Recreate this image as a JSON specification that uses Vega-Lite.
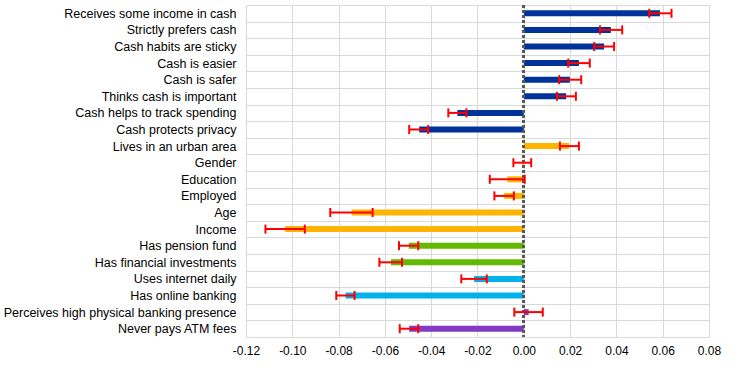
{
  "$schema": "https://vega.github.io/schema/vega-lite/v6.json",
  "autosize": {"type": "none"},
  "width": 463,
  "height": 332,
  "padding": {"left": 246, "top": 5, "right": 35, "bottom": 33},
  "background": "white",
  "config": {
    "view": {"stroke": null},
    "font": "Liberation Sans",
    "axis": {"labelFont": "Liberation Sans", "labelFontSize": 12, "labelColor": "#000000", "gridColor": "#d9d9d9", "gridWidth": 1, "domain": false, "ticks": false}
  },
  "data": {"values": [
    {"factor": "Receives some income in cash", "group": "A", "value": 0.0588, "lo": 0.0542, "hi": 0.0638},
    {"factor": "Strictly prefers cash", "group": "A", "value": 0.0376, "lo": 0.0329, "hi": 0.0425},
    {"factor": "Cash habits are sticky", "group": "A", "value": 0.0347, "lo": 0.0304, "hi": 0.039},
    {"factor": "Cash is easier", "group": "A", "value": 0.0238, "lo": 0.0192, "hi": 0.0285},
    {"factor": "Cash is safer", "group": "A", "value": 0.0199, "lo": 0.0153, "hi": 0.0248},
    {"factor": "Thinks cash is important", "group": "A", "value": 0.0183, "lo": 0.0143, "hi": 0.0225},
    {"factor": "Cash helps to track spending", "group": "A", "value": -0.0287, "lo": -0.0326, "hi": -0.0248},
    {"factor": "Cash protects privacy", "group": "A", "value": -0.0452, "lo": -0.0495, "hi": -0.0413},
    {"factor": "Lives in an urban area", "group": "B", "value": 0.0196, "lo": 0.0156, "hi": 0.0238},
    {"factor": "Gender", "group": "B", "value": -0.0007, "lo": -0.0045, "hi": 0.0032},
    {"factor": "Education", "group": "B", "value": -0.0071, "lo": -0.0147, "hi": 0.0004},
    {"factor": "Employed", "group": "B", "value": -0.0085, "lo": -0.0127, "hi": -0.0043},
    {"factor": "Age", "group": "B", "value": -0.0744, "lo": -0.0836, "hi": -0.0653},
    {"factor": "Income", "group": "B", "value": -0.1031, "lo": -0.1116, "hi": -0.0946},
    {"factor": "Has pension fund", "group": "C", "value": -0.0497, "lo": -0.0539, "hi": -0.0456},
    {"factor": "Has financial investments", "group": "C", "value": -0.0574, "lo": -0.0624, "hi": -0.0526},
    {"factor": "Uses internet daily", "group": "D", "value": -0.0215, "lo": -0.027, "hi": -0.016},
    {"factor": "Has online banking", "group": "D", "value": -0.077, "lo": -0.081, "hi": -0.0731},
    {"factor": "Perceives high physical banking presence", "group": "E", "value": 0.0021, "lo": -0.0041, "hi": 0.0082},
    {"factor": "Never pays ATM fees", "group": "E", "value": -0.0495, "lo": -0.0536, "hi": -0.0456}
  ]},
  "encoding": {
    "y": {"field": "factor", "type": "nominal", "sort": null, "title": null,
      "scale": {"paddingInner": 0, "paddingOuter": 0},
      "axis": {"grid": true, "tickBand": "extent", "labelPadding": 10, "labelLimit": 300, "labelFontSize": 12.5}}
  },
  "layer": [
    {
      "mark": {"type": "bar", "size": 6},
      "encoding": {
        "x": {"field": "value", "type": "quantitative", "title": null,
          "scale": {"domain": [-0.12, 0.08], "nice": false, "zero": false},
          "axis": {"values": [-0.12, -0.1, -0.08, -0.06, -0.04, -0.02, 0, 0.02, 0.04, 0.06, 0.08], "grid": true, "labelFlush": false, "labelOverlap": false, "labelPadding": 8, "labelExpr": "replace(format(datum.value, '.2f'), '\u2212', '-')"}},
        "x2": {"datum": 0},
        "color": {"field": "group", "type": "nominal", "legend": null,
          "scale": {"domain": ["A", "B", "C", "D", "E"], "range": ["#003299", "#FFB400", "#65B800", "#00B1EA", "#8139C6"]}}
      }
    },
    {
      "mark": {"type": "rule", "color": "#595959", "strokeWidth": 2, "strokeDash": [3, 2]},
      "encoding": {"x": {"datum": 0}, "y": null}
    },
    {
      "mark": {"type": "rule", "color": "#FF0000", "strokeWidth": 2},
      "encoding": {"x": {"field": "lo", "type": "quantitative"}, "x2": {"field": "hi"}}
    },
    {
      "mark": {"type": "tick", "color": "#FF0000", "thickness": 2, "size": 9, "opacity": 1},
      "encoding": {"x": {"field": "lo", "type": "quantitative"}}
    },
    {
      "mark": {"type": "tick", "color": "#FF0000", "thickness": 2, "size": 9, "opacity": 1},
      "encoding": {"x": {"field": "hi", "type": "quantitative"}}
    }
  ]
}
